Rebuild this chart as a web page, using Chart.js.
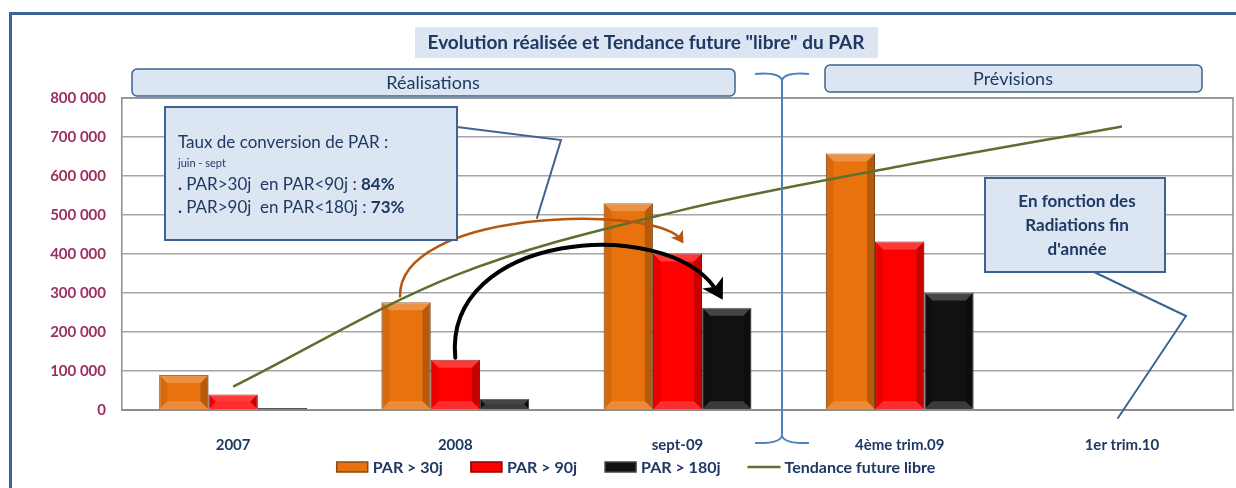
<!DOCTYPE html>
<html>
<head>
<meta charset="utf-8">
<script src="https://cdn.jsdelivr.net/npm/chart.js@4"></script>
<style>
  html, body { margin: 0; padding: 0; background: #ffffff; }
  #wrap { width: 1236px; height: 488px; position: relative; }
</style>
</head>
<body>
<div id="wrap"><canvas id="parChart" width="1236" height="488"></canvas></div>
<script>
// Données
const categories = ['2007', '2008', 'sept-09', '4ème trim.09', '1er trim.10'];
const par30 = [90000, 276000, 530000, 658000, null];
const par90 = [40000, 129000, 401000, 432000, null];
const par180 = [5000, 28000, 262000, 301000, null];
const tendance = [60000, 345000, 510000, 625000, 727000];
const legendLabels = ['PAR > 30j', 'PAR > 90j', 'PAR > 180j', 'Tendance future libre'];

const FONT = 'Lato, "Open Sans", sans-serif';
const NAVY = '#1f3864';
const BOX_FILL = '#dce6f2';
const BOX_LINE = '#3e6391';

const fmt = v => String(v).replace(/\B(?=(\d{3})+(?!\d))/g, ' ');

// boite arrondie
function roundBox(ctx, x, y, w, h, r, fill, stroke) {
    ctx.beginPath();
    ctx.roundRect(x, y, w, h, r);
    ctx.fillStyle = fill;
    ctx.fill();
    if (stroke) {
        ctx.strokeStyle = stroke;
        ctx.lineWidth = 1.5;
        ctx.stroke();
    }
}

function arrowHead(ctx, x, y, angle, size, color) {
    ctx.save();
    ctx.translate(x, y);
    ctx.rotate(angle);
    ctx.beginPath();
    ctx.moveTo(0, 0);
    ctx.lineTo(-size, -size * 0.6);
    ctx.lineTo(-size * 0.75, 0);
    ctx.lineTo(-size, size * 0.6);
    ctx.closePath();
    ctx.fillStyle = color;
    ctx.fill();
    ctx.restore();
}

// effet biseauté sur les barres
const bevelPlugin = {
    id: 'bevel',
    afterDatasetDraw(chart, args) {
        const ds = chart.data.datasets[args.index];
        if (ds.type === 'line') return;
        const ctx = chart.ctx;
        args.meta.data.forEach((bar, i) => {
            if (ds.data[i] == null) return;
            const x0 = bar.x - bar.width / 2, x1 = bar.x + bar.width / 2;
            const y0 = bar.y, y1 = bar.base;
            const h = y1 - y0;
            const b = Math.min(8, h / 2, bar.width / 2);
            if (b < 1) return;
            ctx.save();
            // haut
            ctx.beginPath();
            ctx.moveTo(x0, y0); ctx.lineTo(x1, y0); ctx.lineTo(x1 - b, y0 + b); ctx.lineTo(x0 + b, y0 + b); ctx.closePath();
            ctx.fillStyle = 'rgba(255,255,255,0.22)'; ctx.fill();
            // bas
            ctx.beginPath();
            ctx.moveTo(x0, y1); ctx.lineTo(x1, y1); ctx.lineTo(x1 - b, y1 - b); ctx.lineTo(x0 + b, y1 - b); ctx.closePath();
            ctx.fillStyle = 'rgba(255,255,255,0.18)'; ctx.fill();
            // droite
            ctx.beginPath();
            ctx.moveTo(x1, y0); ctx.lineTo(x1, y1); ctx.lineTo(x1 - b, y1 - b); ctx.lineTo(x1 - b, y0 + b); ctx.closePath();
            ctx.fillStyle = 'rgba(0,0,0,0.22)'; ctx.fill();
            // gauche
            ctx.beginPath();
            ctx.moveTo(x0, y0); ctx.lineTo(x0, y1); ctx.lineTo(x0 + b, y1 - b); ctx.lineTo(x0 + b, y0 + b); ctx.closePath();
            ctx.fillStyle = 'rgba(0,0,0,0.08)'; ctx.fill();
            ctx.restore();
        });
    }
};

// cadre, titres, bulles, flèches et légende
const decorPlugin = {
    id: 'decor',
    beforeDraw(chart) {
        const ctx = chart.ctx;
        ctx.save();
        // cadre extérieur
        ctx.strokeStyle = '#3b6496';
        ctx.lineWidth = 3;
        ctx.beginPath();
        ctx.moveTo(10.5, 490); ctx.lineTo(10.5, 13.5); ctx.lineTo(1240, 13.5);
        ctx.stroke();
        // titre
        ctx.fillStyle = BOX_FILL;
        ctx.fillRect(415, 27, 463, 31);
        ctx.fillStyle = NAVY;
        ctx.font = 'bold 19px ' + FONT;
        ctx.textAlign = 'center';
        ctx.textBaseline = 'middle';
        ctx.fillText('Evolution réalisée et Tendance future "libre" du PAR', 646, 43);
        // bandeaux
        roundBox(ctx, 132, 69, 603, 27, 5, BOX_FILL, BOX_LINE);
        roundBox(ctx, 825, 65, 377, 27, 5, BOX_FILL, BOX_LINE);
        ctx.fillStyle = NAVY;
        ctx.font = '18px ' + FONT;
        ctx.fillText('Réalisations', 433, 83);
        ctx.fillText('Prévisions', 1013, 79);
        ctx.restore();
    },
    afterDraw(chart) {
        const ctx = chart.ctx;
        const area = chart.chartArea;
        ctx.save();
        // bord supérieur et droit de la zone de tracé
        ctx.strokeStyle = '#8c8c8c';
        ctx.lineWidth = 1.5;
        ctx.beginPath();
        ctx.moveTo(area.left, area.top); ctx.lineTo(area.right, area.top); ctx.lineTo(area.right, area.bottom);
        ctx.stroke();

        // accolade de séparation
        ctx.strokeStyle = '#4f81bd';
        ctx.lineWidth = 2;
        ctx.beginPath();
        ctx.moveTo(755, 74); ctx.quadraticCurveTo(779, 72, 782, 80);
        ctx.moveTo(809, 74); ctx.quadraticCurveTo(785, 72, 782, 80);
        ctx.moveTo(782, 80); ctx.lineTo(782, 436);
        ctx.moveTo(755, 443); ctx.quadraticCurveTo(779, 444, 782, 436);
        ctx.moveTo(809, 443); ctx.quadraticCurveTo(785, 444, 782, 436);
        ctx.stroke();

        // flèches entre barres
        const m30 = chart.getDatasetMeta(0).data;
        const m90 = chart.getDatasetMeta(1).data;
        const m180 = chart.getDatasetMeta(2).data;
        ctx.lineCap = 'round';
        // orange : 2008 PAR>30 vers sept-09 PAR>90
        let sx = m30[1].x - 6, sy = m30[1].y - 6;
        let ex = m90[2].x + 6, ey = m90[2].y - 10;
        ctx.strokeStyle = '#b5570f';
        ctx.lineWidth = 2.5;
        ctx.beginPath();
        ctx.moveTo(sx, sy);
        ctx.bezierCurveTo(sx - 2, sy - 85, ex - 40, ey - 40, ex - 4, ey - 6);
        ctx.stroke();
        arrowHead(ctx, ex, ey, Math.atan2(6, 4), 12, '#b5570f');
        // noire : 2008 PAR>90 vers sept-09 PAR>180
        sx = m90[1].x; sy = m90[1].y - 2;
        ex = m180[2].x - 4; ey = m180[2].y - 8;
        ctx.strokeStyle = '#000000';
        ctx.lineWidth = 4;
        ctx.beginPath();
        ctx.moveTo(sx, sy);
        ctx.bezierCurveTo(sx - 12, sy - 125, ex - 60, ey - 85, ex - 8, ey - 12);
        ctx.stroke();
        arrowHead(ctx, ex, ey, Math.atan2(12, 7), 20, '#000000');

        // bulle taux de conversion
        ctx.strokeStyle = BOX_LINE;
        ctx.lineWidth = 2;
        ctx.beginPath();
        ctx.moveTo(457, 127); ctx.lineTo(561, 140); ctx.lineTo(537, 218);
        ctx.stroke();
        ctx.fillStyle = BOX_FILL;
        ctx.fillRect(165, 107, 292, 133);
        ctx.strokeRect(165, 107, 292, 133);
        ctx.fillStyle = NAVY;
        ctx.textAlign = 'left';
        ctx.textBaseline = 'middle';
        ctx.font = '17px ' + FONT;
        ctx.fillText('Taux de conversion de PAR :', 178, 143);
        ctx.font = '11px ' + FONT;
        ctx.fillText('juin - sept', 178, 163);
        const lines = [['. ', 'PAR>30j  en PAR<90j : ', '84%', 185], ['. ', 'PAR>90j  en PAR<180j : ', '73%', 208]];
        lines.forEach(l => {
            let x = 178;
            ctx.font = 'bold 17px ' + FONT;
            ctx.fillText(l[0], x, l[3]);
            x += ctx.measureText(l[0]).width;
            ctx.font = '17px ' + FONT;
            ctx.fillText(l[1], x, l[3]);
            x += ctx.measureText(l[1]).width;
            ctx.font = 'bold 17px ' + FONT;
            ctx.fillText(l[2], x, l[3]);
        });

        // bulle radiations
        ctx.strokeStyle = BOX_LINE;
        ctx.beginPath();
        ctx.moveTo(1094, 272); ctx.lineTo(1186, 316); ctx.lineTo(1118, 418);
        ctx.stroke();
        ctx.fillStyle = BOX_FILL;
        ctx.fillRect(985, 178, 180, 94);
        ctx.strokeRect(985, 178, 180, 94);
        ctx.fillStyle = NAVY;
        ctx.textAlign = 'center';
        ctx.font = 'bold 17px ' + FONT;
        ctx.fillText('En fonction des', 1077, 202);
        ctx.fillText('Radiations fin', 1077, 226);
        ctx.fillText("d'année", 1077, 250);

        // légende
        const ly = 467;
        ctx.font = 'bold 16px ' + FONT;
        ctx.textAlign = 'left';
        const sw = 31, gapT = 5, gapI = 28;
        let total = 0;
        legendLabels.forEach(t => { total += sw + gapT + ctx.measureText(t).width; });
        total += gapI * (legendLabels.length - 1);
        let lx = 636 - total / 2;
        chart.data.datasets.forEach((ds, i) => {
            if (ds.type === 'line') {
                ctx.strokeStyle = ds.borderColor;
                ctx.lineWidth = 2.5;
                ctx.beginPath();
                ctx.moveTo(lx, ly); ctx.lineTo(lx + sw, ly);
                ctx.stroke();
            } else {
                ctx.fillStyle = ds.backgroundColor;
                ctx.fillRect(lx, ly - 5, sw, 10);
                ctx.strokeStyle = ds.borderColor;
                ctx.lineWidth = 1.5;
                ctx.strokeRect(lx, ly - 5, sw, 10);
            }
            lx += sw + gapT;
            ctx.fillStyle = NAVY;
            ctx.fillText(legendLabels[i], lx, ly + 1);
            lx += ctx.measureText(legendLabels[i]).width + gapI;
        });
        ctx.restore();
    }
};

const ctx = document.getElementById('parChart').getContext('2d');
const parChart = new Chart(ctx, {
    type: 'bar',
    data: {
        labels: categories,
        datasets: [
            {
                label: legendLabels[0],
                data: par30,
                backgroundColor: '#e8720e',
                borderColor: '#8a4a12',
                borderWidth: 1,
                order: 1
            },
            {
                label: legendLabels[1],
                data: par90,
                backgroundColor: '#ff0000',
                borderColor: '#8c0000',
                borderWidth: 1,
                order: 1
            },
            {
                label: legendLabels[2],
                data: par180,
                backgroundColor: '#111111',
                borderColor: '#444444',
                borderWidth: 1,
                order: 1
            },
            {
                type: 'line',
                label: legendLabels[3],
                data: tendance,
                borderColor: '#5b7130',
                backgroundColor: '#5b7130',
                borderWidth: 2.5,
                pointRadius: 0,
                cubicInterpolationMode: 'monotone',
                order: 0
            }
        ]
    },
    options: {
        responsive: false,
        animation: false,
        layout: {
            padding: { top: 98, left: 0, right: 3, bottom: 0 }
        },
        datasets: {
            bar: {
                categoryPercentage: 0.665,
                barPercentage: 1
            }
        },
        scales: {
            x: {
                grid: { display: false },
                border: { color: '#8c8c8c', width: 2 },
                ticks: {
                    color: NAVY,
                    font: { family: FONT, size: 15, weight: 'bold' },
                    padding: 18,
                    maxRotation: 0
                },
                afterFit(scale) { scale.height = 78; }
            },
            y: {
                min: 0,
                max: 800000,
                ticks: {
                    stepSize: 100000,
                    color: '#9b2f61',
                    font: { family: FONT, size: 15, weight: 'bold' },
                    padding: 16,
                    callback: v => fmt(v)
                },
                grid: { color: '#a6a6a6', lineWidth: 1.5, drawTicks: false },
                border: { color: '#8c8c8c', width: 1.5 },
                afterFit(scale) { scale.width = 122; }
            }
        },
        plugins: {
            legend: { display: false },
            tooltip: { enabled: false },
            title: { display: false }
        }
    },
    plugins: [bevelPlugin, decorPlugin]
});
</script>
</body>
</html>
